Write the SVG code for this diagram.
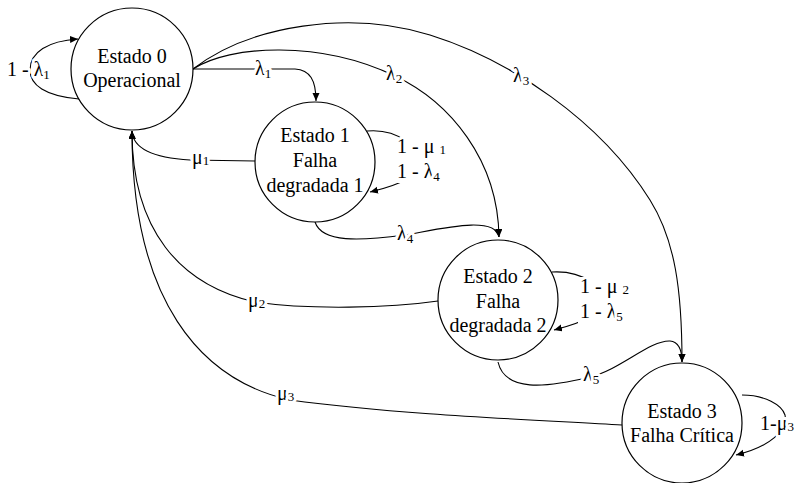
<svg xmlns="http://www.w3.org/2000/svg" width="802" height="483" viewBox="0 0 802 483">
<style>
.st{fill:#fff;stroke:#000;stroke-width:1.2}
.t{font-family:"Liberation Serif","Times New Roman",serif;font-size:20px;fill:#000}
.c{fill:none;stroke:#000;stroke-width:1.1}
.lb{font-family:"Liberation Serif","Times New Roman",serif;font-size:20px;fill:#000;stroke:#fff;stroke-width:6;stroke-linejoin:round;paint-order:stroke}
.s{font-size:13px}
</style>
<defs>
<marker id="ah" markerUnits="userSpaceOnUse" markerWidth="9" markerHeight="8" refX="8" refY="3.5" orient="auto">
<path d="M0,0 L8,3.5 L0,7 z" fill="#000"/>
</marker>
</defs>
<g id="connectors">
<path class="c" d="M79,99 C45,96 30,85 30,70 C30,52 48,41 78,39" marker-end="url(#ah)"/>
<path class="c" d="M193,69 L295,69 C310,70 316,80 316,101" marker-end="url(#ah)"/>
<path class="c" d="M193,69 C230,45 320,40 395,76 C450,102 498,160 499,237" marker-end="url(#ah)"/>
<path class="c" d="M193,69 C250,25 350,10 430,35 C510,60 600,120 650,200 C675,240 682,290 682,362" marker-end="url(#ah)"/>
<path class="c" d="M367,131 C400,128 420,150 420,162 C420,175 400,185 370,192" marker-end="url(#ah)"/>
<path class="c" d="M315,222 C322,243 360,241 405,235 C440,229 495,215 499,237" marker-end="url(#ah)"/>
<path class="c" d="M552,272 C585,270 605,290 605,300 C605,312 585,322 554,330" marker-end="url(#ah)"/>
<path class="c" d="M498,362 C505,392 545,388 590,377 C620,370 650,340 670,341 C680,342 682,352 682,362" marker-end="url(#ah)"/>
<path class="c" d="M742,395 C765,395 782,405 785,415 C788,430 770,447 736,455" marker-end="url(#ah)"/>
<path class="c" d="M255,161 L190,160 C155,158 133,150 132,131" marker-end="url(#ah)"/>
<path class="c" d="M438,301 C390,308 310,310 255,302 C180,285 132,230 132,131" marker-end="url(#ah)"/>
<path class="c" d="M622,425 C540,420 400,415 290,400 C200,380 132,300 132,131" marker-end="url(#ah)"/>
<rect x="395" y="138" width="48" height="45" fill="#fff"/>
<rect x="578" y="277" width="50" height="47" fill="#fff"/>
<text class="lb" x="7" y="76">1 - λ<tspan class="s" dy="3">1</tspan></text>
<text class="lb" x="255" y="75">λ<tspan class="s" dy="3">1</tspan></text>
<text class="lb" x="386" y="80">λ<tspan class="s" dy="3">2</tspan></text>
<text class="lb" x="513" y="82">λ<tspan class="s" dy="3">3</tspan></text>
<text class="lb" x="397" y="240">λ<tspan class="s" dy="3">4</tspan></text>
<text class="lb" x="583" y="381">λ<tspan class="s" dy="3">5</tspan></text>
<text class="lb" x="192" y="164">μ<tspan class="s" dy="1">1</tspan></text>
<text class="lb" x="248" y="307">μ<tspan class="s" dy="1">2</tspan></text>
<text class="lb" x="277" y="400">μ<tspan class="s" dy="1">3</tspan></text>
<text class="lb" x="397" y="153">1 - μ <tspan class="s" dy="1">1</tspan></text>
<text class="lb" x="397" y="178">1 - λ<tspan class="s" dy="3">4</tspan></text>
<text class="lb" x="580" y="293">1 - μ <tspan class="s" dy="1">2</tspan></text>
<text class="lb" x="580" y="318">1 - λ<tspan class="s" dy="3">5</tspan></text>
<text class="lb" x="760" y="430">1-μ<tspan class="s" dy="1">3</tspan></text>
</g>
<g id="state0">
<circle class="st" cx="132" cy="69" r="61"/>
<text class="t" x="132" y="63" text-anchor="middle">Estado 0</text>
<text class="t" x="132" y="87" text-anchor="middle">Operacional</text>
</g>
<g id="state1">
<circle class="st" cx="315" cy="162" r="60"/>
<text class="t" x="315" y="142" text-anchor="middle">Estado 1</text>
<text class="t" x="315" y="167" text-anchor="middle">Falha</text>
<text class="t" x="315" y="192" text-anchor="middle">degradada 1</text>
</g>
<g id="state2">
<circle class="st" cx="498" cy="300" r="60"/>
<text class="t" x="498" y="283" text-anchor="middle">Estado 2</text>
<text class="t" x="498" y="308" text-anchor="middle">Falha</text>
<text class="t" x="498" y="332" text-anchor="middle">degradada 2</text>
</g>
<g id="state3">
<circle class="st" cx="682" cy="423" r="60"/>
<text class="t" x="682" y="418" text-anchor="middle">Estado 3</text>
<text class="t" x="682" y="442" text-anchor="middle">Falha Crítica</text>
</g>
</svg>
